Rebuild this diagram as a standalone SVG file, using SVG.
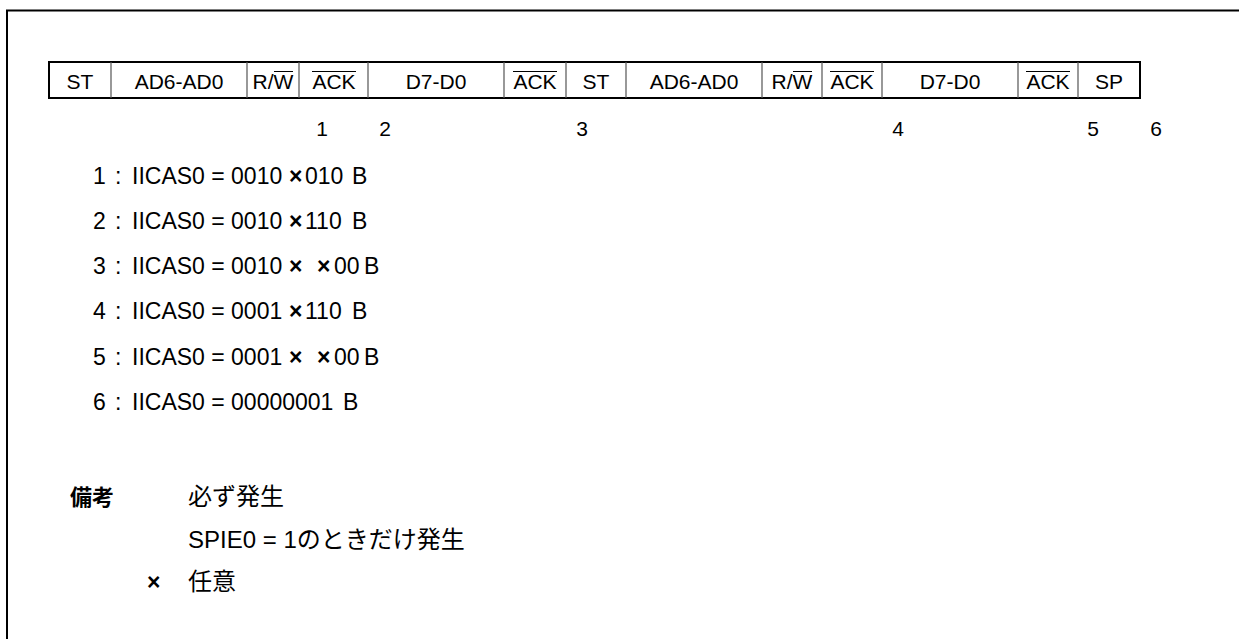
<svg xmlns="http://www.w3.org/2000/svg" width="1239" height="639" viewBox="0 0 1239 639">
<style>
.t{font-family:"Liberation Sans",Arial,sans-serif;font-size:21px;fill:#000}
.l{font-family:"Liberation Sans",Arial,sans-serif;font-size:23px;fill:#000}
.c{text-anchor:middle}
.j{font-family:"Liberation Sans","Noto Sans CJK JP",sans-serif;font-size:24px;fill:#000}
.b{font-weight:bold;font-size:22px}
.x{font-weight:bold}
.in{stroke:#555;stroke-width:1.2;fill:none}
.ol{stroke:#000;stroke-width:1.2}
</style>
<rect width="1239" height="639" fill="#fff"/>
<g id="frame">
<line x1="6" y1="10.5" x2="1239" y2="10.5" stroke="#000" stroke-width="2"/>
<line x1="7" y1="10" x2="7" y2="639" stroke="#000" stroke-width="2"/>
</g>
<g id="bar">
<rect x="49" y="62" width="1091" height="36" fill="#fff" stroke="#000" stroke-width="2"/>
<path class="in" d="M111 62V98M247 62V98M299 62V98M368 62V98M504 62V98M566 62V98M626 62V98M762 62V98M822 62V98M882 62V98M1018 62V98M1078 62V98"/>
<g class="t c">
<text x="80" y="89">ST</text>
<text x="179" y="89">AD6-AD0</text>
<text x="273" y="89">R/W</text>
<text x="334" y="89">ACK</text>
<text x="436" y="89">D7-D0</text>
<text x="535" y="89">ACK</text>
<text x="596" y="89">ST</text>
<text x="694" y="89">AD6-AD0</text>
<text x="792" y="89">R/W</text>
<text x="852" y="89">ACK</text>
<text x="950" y="89">D7-D0</text>
<text x="1048" y="89">ACK</text>
<text x="1109" y="89">SP</text>
</g>
<path class="ol" d="M274 71.5H293M312 71.5H356M513 71.5H557M793 71.5H812M830 71.5H874M1026 71.5H1070"/>
</g>
<g id="points" class="t c">
<text x="322" y="136">1</text>
<text x="385" y="136">2</text>
<text x="582" y="136">3</text>
<text x="898" y="136">4</text>
<text x="1093" y="136">5</text>
<text x="1156" y="136">6</text>
</g>
<g id="legend" class="l">
<text y="184"><tspan x="93">1</tspan><tspan x="115">:</tspan><tspan x="132">IICAS0 = 0010</tspan><tspan x="289" class="x">×</tspan><tspan x="305">010</tspan><tspan x="352">B</tspan></text>
<text y="229"><tspan x="93">2</tspan><tspan x="115">:</tspan><tspan x="132">IICAS0 = 0010</tspan><tspan x="289" class="x">×</tspan><tspan x="305">110</tspan><tspan x="352">B</tspan></text>
<text y="274"><tspan x="93">3</tspan><tspan x="115">:</tspan><tspan x="132">IICAS0 = 0010</tspan><tspan x="289" class="x">×</tspan><tspan x="317" class="x">×</tspan><tspan x="334">00</tspan><tspan x="364">B</tspan></text>
<text y="319"><tspan x="93">4</tspan><tspan x="115">:</tspan><tspan x="132">IICAS0 = 0001</tspan><tspan x="289" class="x">×</tspan><tspan x="305">110</tspan><tspan x="352">B</tspan></text>
<text y="365"><tspan x="93">5</tspan><tspan x="115">:</tspan><tspan x="132">IICAS0 = 0001</tspan><tspan x="289" class="x">×</tspan><tspan x="317" class="x">×</tspan><tspan x="334">00</tspan><tspan x="364">B</tspan></text>
<text y="410"><tspan x="93">6</tspan><tspan x="115">:</tspan><tspan x="132">IICAS0 = 00000001</tspan><tspan x="343">B</tspan></text>
</g>
<g id="notes">
<text class="j b" x="70" y="505">備考</text>
<text class="j" x="188" y="505">必ず発生</text>
<text class="j" x="188" y="548">SPIE0 = 1のときだけ発生</text>
<text class="l x" x="147" y="590">×</text>
<text class="j" x="188" y="590">任意</text>
</g>
</svg>
